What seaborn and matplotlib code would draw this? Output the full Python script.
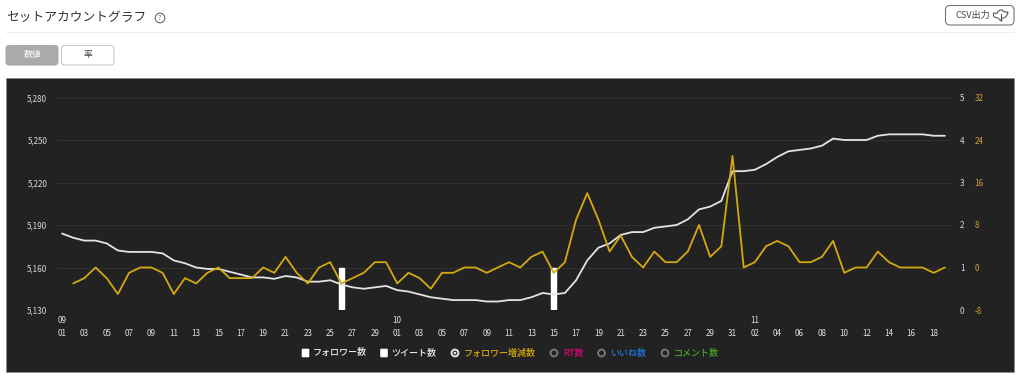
import numpy as np
import pandas as pd
import seaborn as sns
import matplotlib
matplotlib.use("Agg")
import matplotlib.pyplot as plt
from matplotlib.patches import FancyBboxPatch, Rectangle, Circle, PathPatch
from matplotlib.path import Path

# ---- data ----
followers = [5184, 5181, 5179, 5179, 5177, 5172, 5171, 5171, 5171, 5170,
             5165, 5163, 5160, 5159, 5159, 5157, 5155, 5153, 5153, 5152,
             5154, 5153, 5150, 5150, 5151, 5148, 5146, 5145, 5146, 5147,
             5144, 5143, 5141, 5139, 5138, 5137, 5137, 5137, 5136, 5136,
             5137, 5137, 5139, 5142, 5141, 5142, 5151, 5165, 5174, 5177,
             5183, 5185, 5185, 5188, 5189, 5190, 5194, 5201, 5203, 5207,
             5228, 5228, 5229, 5233, 5238, 5242, 5243, 5244, 5246, 5251,
             5250, 5250, 5250, 5253, 5254, 5254, 5254, 5254, 5253, 5253]
follower_change = [np.nan, -3, -2, 0, -2, -5, -1, 0, 0, -1,
                   -5, -2, -3, -1, 0, -2, -2, -2, 0, -1,
                   2, -1, -3, 0, 1, -3, -2, -1, 1, 1,
                   -3, -1, -2, -4, -1, -1, 0, 0, -1, 0,
                   1, 0, 2, 3, -1, 1, 9, 14, 9, 3,
                   6, 2, 0, 3, 1, 1, 3, 8, 2, 4,
                   21, 0, 1, 4, 5, 4, 1, 1, 2, 5,
                   -1, 0, 0, 3, 1, 0, 0, 0, -1, 0]
tweet_days = [25, 44]
tweet_values = [1, 1]
month_lengths = [("09", 30), ("10", 31), ("11", 19)]
left_ticks = [5130, 5160, 5190, 5220, 5250, 5280]
right_ticks = [0, 1, 2, 3, 4, 5]
gold_ticks = [-8, 0, 8, 16, 24, 32]

title = "セットアカウントグラフ"
legend_items = ["フォロワー数", "ツイート数", "フォロワー増減数", "RT数", "いいね数", "コメント数"]

# ---- derived tables ----
day_index = np.arange(len(followers))
day_labels, month_of_day = [], []
for m, n in month_lengths:
    for d in range(1, n + 1):
        day_labels.append(f"{d:02d}")
        month_of_day.append(m)
df = pd.DataFrame({"day": day_index, "followers": followers, "change": follower_change})
df_tweets = pd.DataFrame({"day": tweet_days, "tweets": tweet_values})

sns.set_theme(style="dark")
plt.rcParams["font.family"] = ["Noto Sans CJK JP", "DejaVu Sans"]

W, H = 1024, 387
fig = plt.figure(figsize=(W / 100, H / 100), dpi=100, facecolor="white")

# page chrome, in pixel coordinates
bg = fig.add_axes([0, 0, 1, 1], zorder=0)
bg.set_xlim(0, W); bg.set_ylim(H, 0); bg.axis("off")
bg.add_patch(Rectangle((5.5, 78), 1008.5, 293.5, fc="#222222", ec="#8a8a8a", lw=0.5))
bg.plot([6, 1014], [32, 32], color="#eeeeee", lw=0.8)
bg.text(6.5, 18, title, fontsize=9.15, color="#333333", va="center", ha="left")
bg.add_patch(Circle((160, 18), 4.8, fc="white", ec="#777777", lw=0.9))
bg.text(160, 17.6, "?", fontsize=5.5, color="#777777", ha="center", va="center")


def button(x0, y0, x1, y1, fc, ec, r=3):
    bg.add_patch(FancyBboxPatch((x0 + r, y0 + r), x1 - x0 - 2 * r, y1 - y0 - 2 * r,
                                boxstyle=f"round,pad={r},rounding_size={r}",
                                fc=fc, ec=ec, lw=0.8))


button(6, 45.5, 58, 65, "#aaaaaa", "#aaaaaa")
button(61.5, 45.5, 114, 65, "white", "#c8c8c8")
bg.text(32, 55, "数値", fontsize=6.3, color="white", ha="center", va="center")
bg.text(87.5, 55, "率", fontsize=6.3, color="#444444", ha="center", va="center")
button(945.5, 5.5, 1014, 25, "white", "#777777", r=4.5)
bg.text(955, 15.3, "CSV出力", fontsize=6.6, color="#444444", ha="left", va="center")
# cloud-download icon
icon = "#555555"
ix = 1.5
bg.add_patch(PathPatch(Path([(997 + ix, 18), (991 + ix, 18), (992 + ix, 13), (995.5 + ix, 13.5)],
                            [Path.MOVETO, Path.CURVE3, Path.CURVE3, Path.LINETO]),
                       fc="none", ec=icon, lw=0.8))
bg.add_patch(PathPatch(Path([(995.5 + ix, 13.5), (996.5 + ix, 9.5), (1001 + ix, 10), (1001.5 + ix, 12.5),
                             (1006.5 + ix, 12), (1005.5 + ix, 18), (1001 + ix, 18)],
                            [Path.MOVETO, Path.CURVE3, Path.CURVE3, Path.CURVE3,
                             Path.CURVE3, Path.CURVE3, Path.LINETO]),
                       fc="none", ec=icon, lw=0.8))
bg.plot([999 + ix, 999 + ix], [14, 20.5], color=icon, lw=0.8)
bg.plot([997.2 + ix, 999 + ix, 1000.8 + ix], [18.8, 20.5, 18.8], color=icon, lw=0.8)

# legend row, in pixel coordinates
legend_y = 353
for x, label in zip([301.5, 380], legend_items[:2]):
    bg.add_patch(FancyBboxPatch((x + 1, legend_y - 3.5), 6, 7, boxstyle="round,pad=0.8,rounding_size=1",
                                fc="white", ec="white", lw=0))
    bg.text(x + 11, legend_y, label, fontsize=6.5, color="#eeeeee", va="center", ha="left",
            fontweight="medium")
radios = [(455, legend_items[2], "#d4a90f", True),
          (554, legend_items[3], "#e0007a", False),
          (601.5, legend_items[4], "#2477e0", False),
          (665, legend_items[5], "#47a822", False)]
for x, label, col, active in radios:
    bg.add_patch(Circle((x, legend_y), 3.4, fc="none",
                        ec="#e8e8e8" if active else "#777777", lw=1.4))
    if active:
        bg.add_patch(Circle((x, legend_y), 1.3, fc="#e8e8e8", ec="none"))
    bg.text(x + 9, legend_y, label, fontsize=6.5, color=col, va="center", ha="left",
            fontweight="medium")

# chart axes: pixel box x 57..951, y 97.5..310
x0, x1, ytop, ybot = 57, 951, 97.5, 310
rect = [x0 / W, 1 - ybot / H, (x1 - x0) / W, (ybot - ytop) / H]
ax = fig.add_axes(rect, zorder=2)
ax_t = ax.twinx()
ax_g = ax.twinx()

# native_scale measures width against the smallest gap between the bars
bar_gap = min(np.diff(tweet_days))
sns.barplot(data=df_tweets, x="day", y="tweets", native_scale=True, width=0.4 / bar_gap, color="white",
            saturation=1, ax=ax_t, zorder=1)
sns.lineplot(data=df, x="day", y="followers", color="#e4e4e4", lw=1.3, estimator=None, ax=ax)
sns.lineplot(data=df, x="day", y="change", color="#d4a90f", lw=1.3, estimator=None, ax=ax_g)

ax.set_zorder(3); ax_t.set_zorder(2); ax_g.set_zorder(4)
for a in (ax, ax_t, ax_g):
    a.patch.set_visible(False)
    a.set_xlabel(""); a.set_ylabel("")
    a.grid(False)
    for s in a.spines.values():
        s.set_visible(False)

ax.set_xlim(-0.45, 79.55)
ax.set_ylim(5130, 5280)
ax_t.set_ylim(0, 5)
ax_g.set_ylim(-8, 32)

ax.set_yticks(left_ticks, [f"{v:,}" for v in left_ticks])
ax_t.set_yticks(right_ticks, [str(v) for v in right_ticks])
ax_g.set_yticks(gold_ticks, [str(v) for v in gold_ticks])
for v in left_ticks:
    ax_t.axhline((v - 5130) / 30, color="#444444" if v == 5130 else "#303030", lw=0.8, zorder=0)

tick_pos, tick_lab, seen = [], [], set()
for i in day_index[::2]:
    m = month_of_day[i]
    top = m if m not in seen else " "
    seen.add(m)
    tick_pos.append(i)
    tick_lab.append(f"{top}\n{day_labels[i]}")
ax.set_xticks(tick_pos, tick_lab)

ax.tick_params(axis="y", length=0, pad=7.0, labelsize=5.8, labelcolor="#d8d8d8", left=False)
ax.tick_params(axis="x", length=0, pad=4.5, labelsize=5.8, labelcolor="#e0e0e0", bottom=False)
for t in ax.get_xticklabels():
    t.set_linespacing(1.55)
ax_t.tick_params(axis="y", length=0, pad=6.5, labelsize=5.8, labelcolor="#d8d8d8", right=False)
ax_g.tick_params(axis="y", length=0, pad=17, labelsize=5.8, labelcolor="#d4a030", right=False)
ax_t.tick_params(axis="x", bottom=False, labelbottom=False)
ax_g.tick_params(axis="x", bottom=False, labelbottom=False)

fig.savefig("out.png", dpi=100, facecolor="white")
